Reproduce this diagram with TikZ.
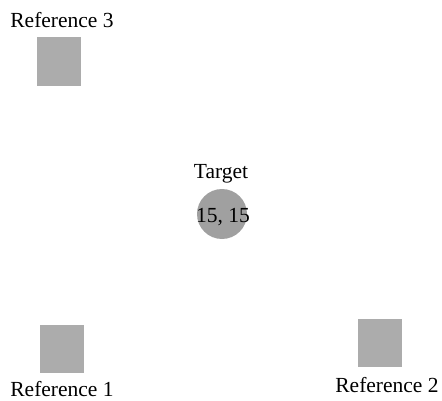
\documentclass[tikz,border=0pt]{standalone}
\usepackage{fontspec}
\setmainfont{Liberation Serif}
\definecolor{sqfill}{RGB}{172,172,172}
\definecolor{circfill}{RGB}{160,160,160}
\begin{document}
\begin{tikzpicture}[x=1pt,y=1pt,
  refbox/.style={draw=none,fill=sqfill,minimum width=44pt,minimum height=48pt,inner sep=0pt},
  lbl/.style={anchor=base,inner sep=0pt,font=\fontsize{21.5}{26}\selectfont},
  tgt/.style={circle,fill=circfill,minimum size=50pt,inner sep=0pt}]
\useasboundingbox (0,0) rectangle (442,400);
\node[refbox] (r3) at (59,338.5) {};
\node[refbox] (r1) at (62,51.5) {};
\node[refbox] (r2) at (380,57) {};
\node[tgt] (t) at (222,186) {};
\node[lbl] (l3) at (62,372) {Reference 3};
\node[lbl] (l1) at (62,4) {Reference 1};
\node[lbl] (l2) at (387,8) {Reference 2};
\node[lbl] (lt) at (221,222) {Target};
\node[lbl] (lc) at (223,178) {15, 15};
\end{tikzpicture}
\end{document}
